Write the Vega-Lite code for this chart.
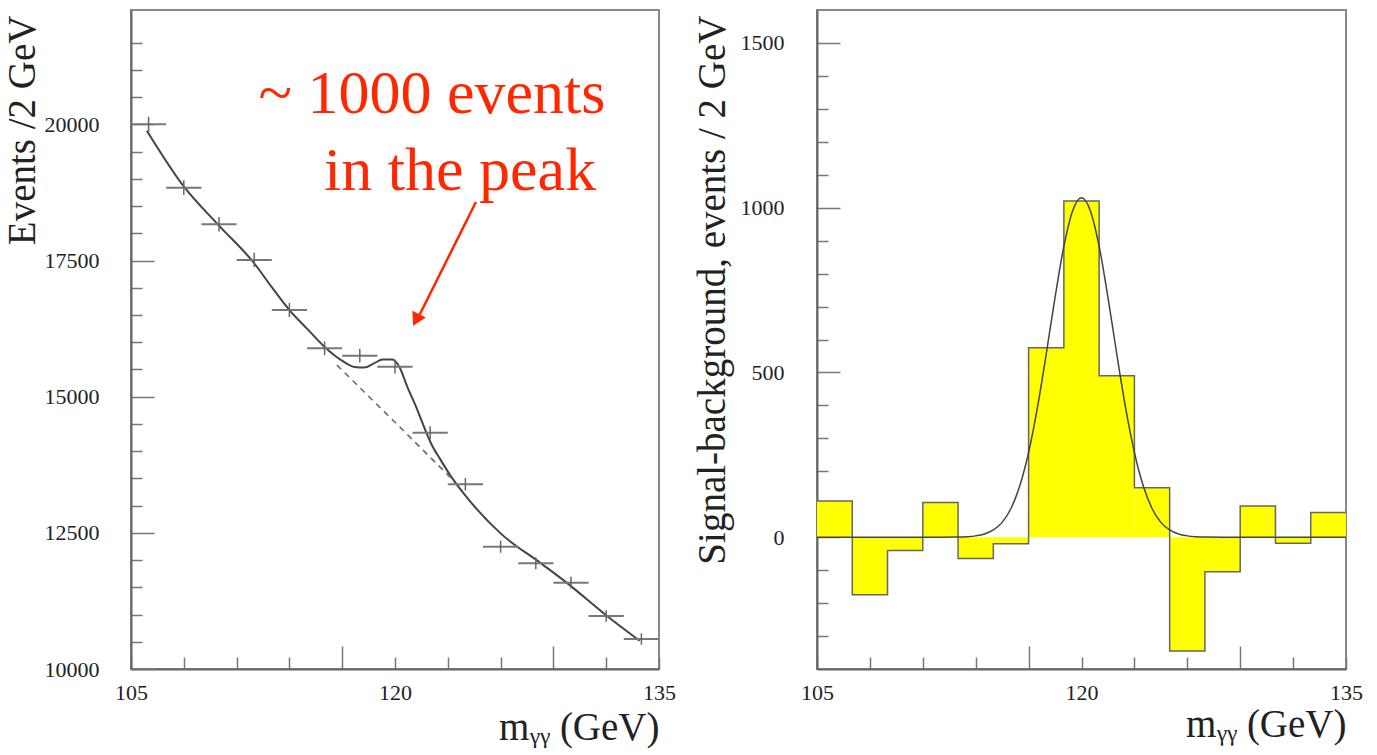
{
  "$schema": "https://vega.github.io/schema/vega-lite/v6.json",
  "background": "white",
  "padding": {"left": 2, "top": 9, "right": 0, "bottom": 0},
  "bounds": "flush",
  "spacing": 158,
  "config": {
    "view": {"stroke": "#888", "strokeWidth": 2},
    "font": "Liberation Serif",
    "axis": {
      "domainColor": "#666", "domainWidth": 2, "tickColor": "#777", "tickWidth": 1.5,
      "labelFont": "Liberation Serif", "labelFontSize": 22, "labelColor": "#222",
      "titleFont": "Liberation Serif", "titleFontSize": 39, "titleFontWeight": "normal", "titleColor": "#222",
      "grid": false, "labelFlush": false, "labelOverlap": false, "tickCount": 100
    }
  },
  "datasets": {
    "fit": [
      {"m": 105.9, "n": 19884}, {"m": 108.0, "n": 18860}, {"m": 110.0, "n": 18140}, {"m": 112.0, "n": 17450},
      {"m": 113.0, "n": 17010}, {"m": 114.0, "n": 16590}, {"m": 115.0, "n": 16250}, {"m": 115.9, "n": 15945},
      {"m": 116.55, "n": 15761}, {"m": 117.1, "n": 15639}, {"m": 117.7, "n": 15547}, {"m": 118.25, "n": 15536},
      {"m": 118.8, "n": 15611}, {"m": 119.3, "n": 15684}, {"m": 119.85, "n": 15684}, {"m": 120.25, "n": 15547},
      {"m": 120.7, "n": 15180}, {"m": 121.2, "n": 14813}, {"m": 121.65, "n": 14446}, {"m": 122.05, "n": 14141},
      {"m": 122.6, "n": 13835}, {"m": 123.2, "n": 13528}, {"m": 123.9, "n": 13224}, {"m": 126.0, "n": 12490},
      {"m": 128.3, "n": 11939}, {"m": 129.8, "n": 11572}, {"m": 132.1, "n": 10960}, {"m": 133.9, "n": 10519}
    ],
    "bkg": [
      {"m": 116.7, "n": 15580}, {"m": 120.0, "n": 14530}, {"m": 123.3, "n": 13470}
    ],
    "points": [
      {"m": 106, "lo": 105, "hi": 107, "n": 20000, "e": 141},
      {"m": 108, "lo": 107, "hi": 109, "n": 18838, "e": 137},
      {"m": 110, "lo": 109, "hi": 111, "n": 18166, "e": 135},
      {"m": 112, "lo": 111, "hi": 113, "n": 17510, "e": 132},
      {"m": 114, "lo": 113, "hi": 115, "n": 16592, "e": 129},
      {"m": 116, "lo": 115, "hi": 117, "n": 15889, "e": 126},
      {"m": 118, "lo": 117, "hi": 119, "n": 15753, "e": 126},
      {"m": 120, "lo": 119, "hi": 121, "n": 15551, "e": 125},
      {"m": 122, "lo": 121, "hi": 123, "n": 14339, "e": 120},
      {"m": 124, "lo": 123, "hi": 125, "n": 13392, "e": 116},
      {"m": 126, "lo": 125, "hi": 127, "n": 12246, "e": 111},
      {"m": 128, "lo": 127, "hi": 129, "n": 11941, "e": 109},
      {"m": 130, "lo": 129, "hi": 131, "n": 11585, "e": 108},
      {"m": 132, "lo": 131, "hi": 133, "n": 10973, "e": 105},
      {"m": 134, "lo": 133, "hi": 135, "n": 10551, "e": 103}
    ],
    "notes": [
      {"m": 122.1, "n": 20209, "label": "~ 1000 events"},
      {"m": 123.7, "n": 18796, "label": "in the peak"}
    ],
    "arrow": [{"m": 124.6, "n": 18574, "m2": 121.3, "n2": 16440}],
    "head": [{"m": 121.2, "n": 16408}],
    "hist": [
      {"lo": 105, "hi": 107, "v": 110}, {"lo": 107, "hi": 109, "v": -175}, {"lo": 109, "hi": 111, "v": -40},
      {"lo": 111, "hi": 113, "v": 105}, {"lo": 113, "hi": 115, "v": -65}, {"lo": 115, "hi": 117, "v": -20},
      {"lo": 117, "hi": 119, "v": 575}, {"lo": 119, "hi": 121, "v": 1020}, {"lo": 121, "hi": 123, "v": 490},
      {"lo": 123, "hi": 125, "v": 150}, {"lo": 125, "hi": 127, "v": -345}, {"lo": 127, "hi": 129, "v": -105},
      {"lo": 129, "hi": 131, "v": 95}, {"lo": 131, "hi": 133, "v": -18}, {"lo": 133, "hi": 135, "v": 75}
    ],
    "edges": [
      {"lo": 105, "v": 110}, {"lo": 107, "v": -175}, {"lo": 109, "v": -40}, {"lo": 111, "v": 105},
      {"lo": 113, "v": -65}, {"lo": 115, "v": -20}, {"lo": 117, "v": 575}, {"lo": 119, "v": 1020},
      {"lo": 121, "v": 490}, {"lo": 123, "v": 150}, {"lo": 125, "v": -345}, {"lo": 127, "v": -105},
      {"lo": 129, "v": 95}, {"lo": 131, "v": -18}, {"lo": 133, "v": 75}, {"lo": 135, "v": 75}
    ],
    "gauss": [
      {"lo": 105, "v": 0}, {"lo": 110, "v": 0}, {"lo": 112, "v": 0}, {"lo": 113, "v": 0.5}, {"lo": 113.5, "v": 1.5},
      {"lo": 114, "v": 4}, {"lo": 114.5, "v": 9.7}, {"lo": 115, "v": 22}, {"lo": 115.5, "v": 45}, {"lo": 116, "v": 87},
      {"lo": 116.5, "v": 156}, {"lo": 117, "v": 257}, {"lo": 117.5, "v": 393}, {"lo": 118, "v": 556},
      {"lo": 118.5, "v": 728}, {"lo": 119, "v": 883}, {"lo": 119.5, "v": 991}, {"lo": 120, "v": 1030},
      {"lo": 120.5, "v": 991}, {"lo": 121, "v": 883}, {"lo": 121.5, "v": 728}, {"lo": 122, "v": 556},
      {"lo": 122.5, "v": 393}, {"lo": 123, "v": 257}, {"lo": 123.5, "v": 156}, {"lo": 124, "v": 87},
      {"lo": 124.5, "v": 45}, {"lo": 125, "v": 22}, {"lo": 125.5, "v": 9.7}, {"lo": 126, "v": 4},
      {"lo": 126.5, "v": 1.5}, {"lo": 127, "v": 0.5}, {"lo": 128, "v": 0}, {"lo": 130, "v": 0}, {"lo": 135, "v": 0}
    ]
  },
  "hconcat": [
    {
      "width": 528,
      "height": 659,
      "layer": [
        {
          "data": {"name": "fit"},
          "mark": {"type": "line", "interpolate": "monotone", "color": "#444", "strokeWidth": 2},
          "encoding": {
            "x": {
              "field": "m", "type": "quantitative",
              "title": "mᵧᵧ (GeV)",
              "scale": {"domain": [105, 135], "nice": false, "zero": false},
              "axis": {
                "values": [105, 108, 111, 114, 117, 120, 123, 126, 129, 132, 135],
                "tickCount": 100,
                "format": "d",
                "tickSize": {"condition": {"test": "datum.value === 117 || datum.value === 129", "value": -23}, "value": -12},
                "labelExpr": "datum.value % 15 === 0 ? datum.label : ''",
                "labelPadding": 25,
                "labelOverlap": false,
                "titleX": 528, "titleY": 70, "titleAlign": "right", "titleBaseline": "alphabetic", "titleAnchor": "end"
              }
            },
            "y": {
              "field": "n", "type": "quantitative",
              "title": "Events /2 GeV",
              "scale": {"domain": [10000, 22100], "nice": false, "zero": false},
              "axis": {
                "values": [10000, 10500, 11000, 11500, 12000, 12500, 13000, 13500, 14000, 14500, 15000, 15500, 16000, 16500, 17000, 17500, 18000, 18500, 19000, 19500, 20000, 20500, 21000, 21500],
                "tickCount": 100,
                "format": "d",
                "tickSize": {"condition": {"test": "datum.value % 2500 === 0", "value": -23}, "value": -11},
                "labelExpr": "datum.value % 2500 === 0 ? datum.label : ''",
                "labelPadding": 55,
                "labelOverlap": false,
                "titleAngle": 270, "titleX": -97, "titleY": 5, "titleAlign": "right", "titleBaseline": "alphabetic"
              }
            }
          }
        },
        {
          "data": {"name": "bkg"},
          "mark": {"type": "line", "color": "#666", "strokeWidth": 1.5, "strokeDash": [6, 5]},
          "encoding": {
            "x": {"field": "m", "type": "quantitative", "title": "mᵧᵧ (GeV)"},
            "y": {"field": "n", "type": "quantitative", "title": "Events /2 GeV"}
          }
        },
        {
          "data": {"name": "points"},
          "mark": {"type": "rule", "color": "#777", "strokeWidth": 2},
          "encoding": {
            "x": {"field": "lo", "type": "quantitative", "title": "mᵧᵧ (GeV)"},
            "x2": {"field": "hi"},
            "y": {"field": "n", "type": "quantitative", "title": "Events /2 GeV"}
          }
        },
        {
          "data": {"name": "points"},
          "mark": {"type": "errorbar", "color": "#666", "thickness": 1.5},
          "encoding": {
            "x": {"field": "m", "type": "quantitative", "title": "mᵧᵧ (GeV)"},
            "y": {"field": "n", "type": "quantitative", "title": "Events /2 GeV"},
            "yError": {"field": "e"}
          }
        },
        {
          "data": {"name": "notes"},
          "mark": {"type": "text", "font": "Liberation Serif", "fontSize": 62, "color": "#ff2600", "align": "center", "baseline": "alphabetic"},
          "encoding": {
            "x": {"field": "m", "type": "quantitative", "title": "mᵧᵧ (GeV)"},
            "y": {"field": "n", "type": "quantitative", "title": "Events /2 GeV"},
            "text": {"field": "label"}
          }
        },
        {
          "data": {"name": "arrow"},
          "mark": {"type": "rule", "color": "#ff2600", "strokeWidth": 2.5},
          "encoding": {
            "x": {"field": "m", "type": "quantitative", "title": "mᵧᵧ (GeV)"},
            "y": {"field": "n", "type": "quantitative", "title": "Events /2 GeV"},
            "x2": {"field": "m2"},
            "y2": {"field": "n2"}
          }
        },
        {
          "data": {"name": "head"},
          "mark": {"type": "point", "shape": "triangle-up", "filled": true, "color": "#ff2600", "opacity": 1, "size": 230, "angle": 207},
          "encoding": {
            "x": {"field": "m", "type": "quantitative", "title": "mᵧᵧ (GeV)"},
            "y": {"field": "n", "type": "quantitative", "title": "Events /2 GeV"}
          }
        }
      ]
    },
    {
      "width": 529,
      "height": 659,
      "layer": [
        {
          "data": {"name": "hist"},
          "mark": {"type": "bar", "color": "#ffff00"},
          "encoding": {
            "x": {
              "field": "lo", "type": "quantitative",
              "title": "mᵧᵧ (GeV)",
              "scale": {"domain": [105, 135], "nice": false, "zero": false},
              "axis": {
                "values": [105, 108, 111, 114, 117, 120, 123, 126, 129, 132, 135],
                "tickCount": 100,
                "format": "d",
                "tickSize": {"condition": {"test": "datum.value === 117 || datum.value === 129", "value": -23}, "value": -12},
                "labelExpr": "datum.value % 15 === 0 ? datum.label : ''",
                "labelPadding": 25,
                "labelOverlap": false,
                "titleX": 529, "titleY": 67, "titleAlign": "right", "titleBaseline": "alphabetic", "titleAnchor": "end"
              }
            },
            "x2": {"field": "hi"},
            "y": {
              "field": "v", "type": "quantitative",
              "title": "Signal-background, events / 2 GeV",
              "scale": {"domain": [-400, 1600], "nice": false, "zero": false},
              "axis": {
                "values": [-300, -200, -100, 0, 100, 200, 300, 400, 500, 600, 700, 800, 900, 1000, 1100, 1200, 1300, 1400, 1500],
                "tickCount": 100,
                "format": "d",
                "tickSize": {"condition": {"test": "datum.value % 500 === 0", "value": -23}, "value": -11},
                "labelExpr": "datum.value % 500 === 0 ? datum.label : ''",
                "labelPadding": 56,
                "labelOverlap": false,
                "titleAngle": 270, "titleX": -93, "titleY": 5, "titleAlign": "right", "titleBaseline": "alphabetic"
              }
            },
            "y2": {"datum": 0}
          }
        },
        {
          "data": {"name": "edges"},
          "mark": {"type": "line", "interpolate": "step-after", "color": "#666", "strokeWidth": 1.5},
          "encoding": {
            "x": {"field": "lo", "type": "quantitative", "title": "mᵧᵧ (GeV)"},
            "y": {"field": "v", "type": "quantitative", "title": "Signal-background, events / 2 GeV"}
          }
        },
        {
          "data": {"name": "gauss"},
          "mark": {"type": "line", "interpolate": "monotone", "color": "#444", "strokeWidth": 1.5},
          "encoding": {
            "x": {"field": "lo", "type": "quantitative", "title": "mᵧᵧ (GeV)"},
            "y": {"field": "v", "type": "quantitative", "title": "Signal-background, events / 2 GeV"}
          }
        }
      ]
    }
  ]
}
